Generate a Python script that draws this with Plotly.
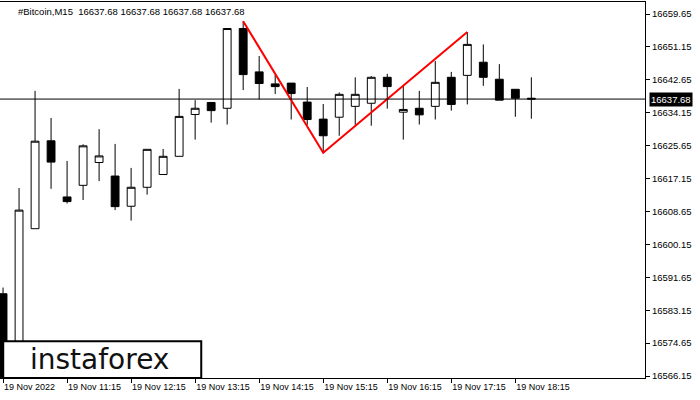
import plotly.graph_objects as go

opens  = [16587.4,16562.5,16604.2,16626.9,16612.4,16615.4,16621.3,16617.8,16610.0,16614.9,16618.2,16622.9,16633.7,16636.8,16635.3,16655.9,16644.7,16641.6,16641.8,16636.9,16632.5,16633.0,16635.8,16636.6,16643.3,16634.3,16635.3,16635.8,16643.3,16643.8,16647.2,16642.8,16640.2,16637.9]
highs  = [16589.0,16614.7,16639.8,16632.8,16621.7,16626.0,16629.9,16626.1,16619.9,16624.7,16624.8,16640.3,16637.4,16636.8,16655.9,16657.8,16648.8,16644.0,16641.8,16640.8,16636.4,16639.4,16643.3,16643.6,16644.2,16641.1,16639.8,16647.5,16644.7,16655.0,16651.8,16646.7,16640.2,16643.3]
lows   = [16555.0,16558.0,16604.2,16614.5,16610.7,16611.6,16616.5,16609.0,16606.3,16613.0,16618.2,16622.9,16627.2,16631.6,16631.1,16640.0,16637.6,16639.0,16632.4,16631.0,16623.8,16628.2,16631.0,16630.8,16635.2,16627.2,16631.1,16632.4,16634.7,16636.3,16641.1,16637.4,16633.1,16632.6]
closes = [16560.0,16609.0,16626.8,16621.4,16611.2,16625.6,16623.0,16609.9,16614.9,16624.7,16622.9,16633.2,16635.3,16634.7,16655.9,16644.0,16641.7,16640.9,16639.1,16632.4,16628.2,16638.9,16638.9,16643.3,16640.9,16635.0,16633.6,16642.0,16636.3,16651.8,16643.3,16637.4,16637.9,16637.68]
x_labels = ["19 Nov 2022","19 Nov 11:15","19 Nov 12:15","19 Nov 13:15","19 Nov 14:15","19 Nov 15:15","19 Nov 16:15","19 Nov 17:15","19 Nov 18:15"]
x_label_pos = [0,4,8,12,16,20,24,28,32]
y_ticks = [16566.15,16574.65,16583.15,16591.65,16600.15,16608.65,16617.15,16625.65,16634.15,16642.65,16651.15,16659.65]
pattern_x = [15,20,29]
pattern_y = [16657.8,16623.8,16655.0]
last_price = 16637.68

xs = list(range(len(opens)))
fig = go.Figure()
fig.add_trace(go.Candlestick(x=xs, open=opens, high=highs, low=lows, close=closes,
    increasing=dict(fillcolor="white", line=dict(color="black", width=1)),
    decreasing=dict(fillcolor="black", line=dict(color="black", width=1)),
    whiskerwidth=0, showlegend=False, hoverinfo="skip"))
fig.add_trace(go.Scatter(x=pattern_x, y=pattern_y, mode="lines",
    line=dict(color="#ff0000", width=2), showlegend=False))
fig.add_hline(y=last_price, line=dict(color="black", width=1))

fig.update_layout(
    width=700, height=400, margin=dict(l=0, r=55, t=2, b=22, autoexpand=False),
    paper_bgcolor="white", plot_bgcolor="white",
    font=dict(family="Liberation Sans, Arial", size=9, color="black"),
    xaxis=dict(range=[-0.19, 40.1], tickvals=x_label_pos, ticktext=x_labels, tickangle=0,
               showgrid=False, zeroline=False, rangeslider=dict(visible=False),
               showline=True, linecolor="black", mirror=True, ticks="outside",
               ticklen=4, tickcolor="black", tickfont=dict(size=9), ticklabelposition="outside right",
               automargin=False),
    yaxis=dict(range=[16565.64, 16662.75], side="right", tickvals=y_ticks,
               ticktext=[f"{v:.2f}" for v in y_ticks], showgrid=False, zeroline=False,
               showline=True, linecolor="black", mirror=True, ticks="outside",
               ticklen=4, tickcolor="black", tickfont=dict(size=9.5), automargin=False),
)
fig.add_annotation(x=1, xref="paper", xanchor="left", y=last_price, yref="y",
    text="16637.68", showarrow=False, bgcolor="black", font=dict(color="white", size=9.5),
    borderpad=1, xshift=4)
fig.add_annotation(x=0.025, y=0.995, xref="paper", yref="paper", xanchor="left", yanchor="top",
    text="#Bitcoin,M15  16637.68 16637.68 16637.68 16637.68", showarrow=False,
    font=dict(size=9.5, color="black"))
fig.add_shape(type="rect", xref="paper", yref="paper", x0=0.005, x1=0.312, y0=0.0, y1=0.098,
    fillcolor="white", line=dict(color="black", width=2), layer="above")
fig.add_annotation(x=0.155, y=0.049, xref="paper", yref="paper", xanchor="center", yanchor="middle",
    text="instaforex", showarrow=False, font=dict(size=28, color="#111111", family="DejaVu Sans"))
fig.write_html("out.html", config={"displayModeBar": False},
               post_script="document.body.style.margin='0';document.body.style.overflow='hidden';")
